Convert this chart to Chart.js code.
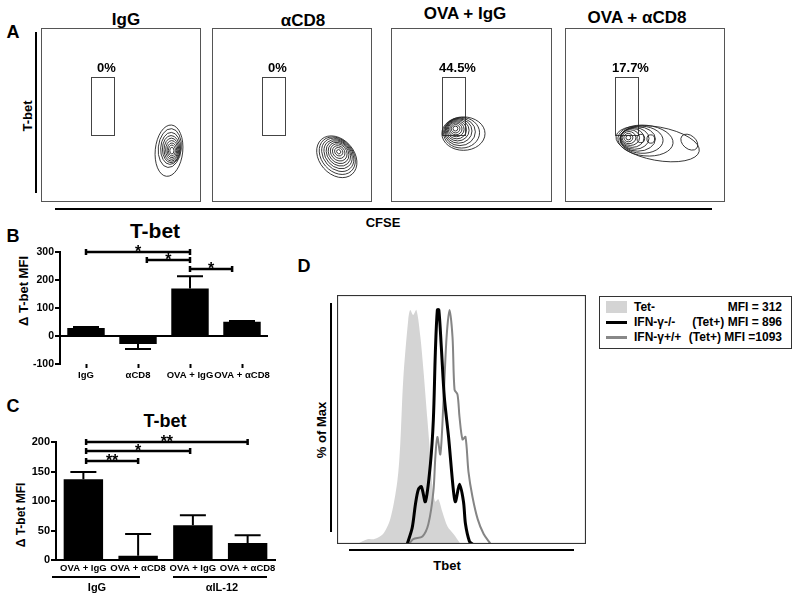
<!DOCTYPE html>
<html>
<head>
<meta charset="utf-8">
<script src="https://cdn.jsdelivr.net/npm/chart.js@4.4.0/dist/chart.umd.min.js"></script>
<style>
  body { margin: 0; background: #fff; width: 800px; height: 599px; position: relative; overflow: hidden;
         font-family: "Liberation Sans", Arial, sans-serif; font-weight: bold; color: #000; }
  .t { position: absolute; transform: translate(-50%, -50%); white-space: nowrap; line-height: 1; }
  .v { position: absolute; transform: translate(-50%, -50%) rotate(-90deg); white-space: nowrap; line-height: 1; }
  .rule { position: absolute; background: #000; }
  canvas { position: absolute; }
</style>
</head>
<body>

<!-- panel A -->
<div class="t" style="left:13px;top:32px;font-size:18px">A</div>
<div id="flowTitles"></div>
<div class="rule" style="left:35px;top:32px;width:2px;height:161px"></div>
<div class="v" style="left:27px;top:116px;font-size:13px">T-bet</div>
<div class="rule" style="left:55px;top:208px;width:657px;height:2px"></div>
<div class="t" style="left:383px;top:222px;font-size:13px">CFSE</div>
<canvas id="flow0" width="160" height="174" style="left:41px;top:28px"></canvas>
<canvas id="flow1" width="160" height="174" style="left:212px;top:28px"></canvas>
<canvas id="flow2" width="161" height="174" style="left:391px;top:28px"></canvas>
<canvas id="flow3" width="160" height="174" style="left:565px;top:28px"></canvas>

<!-- panel B -->
<div class="t" style="left:13px;top:236px;font-size:18px">B</div>
<div class="t" style="left:155px;top:230px;font-size:21px">T-bet</div>
<div class="v" style="left:23px;top:291px;font-size:13px">Δ T-bet MFI</div>
<canvas id="barB" width="290" height="168" style="left:0;top:222px"></canvas>

<!-- panel C -->
<div class="t" style="left:13px;top:406px;font-size:18px">C</div>
<div class="t" style="left:165px;top:421px;font-size:18px">T-bet</div>
<div class="v" style="left:21px;top:515px;font-size:12px">Δ T-bet MFI</div>
<canvas id="barC" width="290" height="155" style="left:0;top:425px"></canvas>
<div class="rule" style="left:52px;top:576px;width:88px;height:1.5px"></div>
<div class="rule" style="left:173px;top:576px;width:94px;height:1.5px"></div>
<div id="groupC"></div>

<!-- panel D -->
<div class="t" style="left:304px;top:266px;font-size:18px">D</div>
<div class="rule" style="left:330px;top:303px;width:2px;height:229px"></div>
<div class="rule" style="left:349px;top:549px;width:225px;height:2px"></div>
<div class="v" style="left:321px;top:430px;font-size:13px">% of Max</div>
<div class="t" style="left:447px;top:565px;font-size:13px">Tbet</div>
<canvas id="hist" width="249" height="249" style="left:337px;top:295px"></canvas>
<div id="legend" style="position:absolute;left:599px;top:296px;width:193px;height:53px;border:1px solid #333;box-sizing:border-box"></div>

<script>
// ---- A: CFSE vs T-bet flow plots (0-100 display units) ----
const sampleNames = ['IgG', 'αCD8', 'OVA + IgG', 'OVA + αCD8'];
const gatePercent = ['0%', '0%', '44.5%', '17.7%'];
const gateCfse = [31.4, 45.9];
const gateTbet = [38.7, 71.7];
// contour rings: [cfse, tbet, cfse radius, tbet radius, tilt]
const contourIgG = [
  [80.0, 29.5, 8.6, 14.8, 0.1], [80.5, 31.0, 7.2, 11.2, 0.1], [81.0, 30.8, 6.2, 9.2, 0.05],
  [81.3, 30.4, 5.4, 7.8, 0], [81.5, 30.1, 4.6, 6.6, 0], [81.7, 29.9, 3.8, 5.4, 0],
  [81.8, 29.7, 3.0, 4.2, 0], [81.8, 29.6, 2.2, 3.1, 0], [81.8, 29.5, 1.3, 1.9, 0]
];
const contourCD8 = [
  [78.0, 26.0, 14.5, 10.0, 0.85], [78.3, 26.6, 13.0, 9.0, 0.85], [78.6, 27.1, 11.5, 8.1, 0.85],
  [78.8, 27.5, 10.0, 7.2, 0.85], [79.0, 27.9, 8.6, 6.3, 0.85], [79.1, 28.2, 7.2, 5.4, 0.85],
  [79.2, 28.5, 5.8, 4.4, 0.85], [79.2, 28.7, 4.3, 3.3, 0.85], [79.2, 28.9, 2.8, 2.2, 0.85],
  [79.2, 28.9, 1.4, 1.1, 0.85]
];
const contourOvaIgG = [
  [45.0, 39.3, 13.4, 9.6, 0], [43.8, 39.8, 11.2, 8.8, 0], [42.8, 40.3, 9.6, 7.9, 0],
  [42.0, 40.8, 8.3, 7.0, 0], [41.4, 41.2, 7.1, 6.1, 0], [40.9, 41.5, 6.0, 5.2, 0],
  [40.5, 41.8, 4.9, 4.3, 0], [40.3, 42.0, 3.8, 3.4, 0], [40.1, 42.1, 2.7, 2.4, 0],
  [40.0, 42.2, 1.5, 1.4, 0]
];
const contourOvaCD8 = [
  [57.9, 33.5, 26.4, 9.6, 0.18], [77.7, 34.4, 6.0, 3.8, 0.7], [50.3, 35.3, 17.3, 8.8, 0.1],
  [47.8, 35.8, 13.5, 7.8, 0.05], [45.5, 36.2, 11.0, 7.0, 0], [43.5, 36.5, 9.0, 6.2, 0],
  [42.0, 36.8, 7.4, 5.4, 0], [40.8, 37.0, 5.8, 4.5, 0], [40.0, 37.0, 4.3, 3.5, 0],
  [39.6, 37.0, 2.8, 2.4, 0], [39.6, 37.0, 1.5, 1.3, 0], [47.4, 36.5, 2.4, 2.4, 0],
  [53.6, 36.2, 2.4, 2.4, 0]
];
const contours = [contourIgG, contourCD8, contourOvaIgG, contourOvaCD8];
const titlePos = [[126, 19], [303, 20], [465, 13], [637, 17]];

// ---- B: delta T-bet MFI ----
const groupsB = ['IgG', 'αCD8', 'OVA + IgG', 'OVA + αCD8'];
const meanB = [29, -29, 170, 51];
const errEndB = [32, -46, 213, 54];
const ticksB = [-100, 0, 100, 200, 300];
const sigFromB = [0, 1.17, 2];
const sigToB = [2, 2, 2.81];
const sigAtB = [300, 271, 239];
const sigTextB = ['*', '*', '*'];

// ---- C: delta T-bet MFI, IgG vs anti-IL-12 ----
const groupsC = ['OVA + IgG', 'OVA + αCD8', 'OVA + IgG', 'OVA + αCD8'];
const treatC = ['IgG', 'αIL-12'];
const meanC = [137, 7, 59, 29];
const errEndC = [149, 44, 76, 42];
const ticksC = [0, 50, 100, 150, 200];
const sigFromC = [0.05, 0.05, 0.05];
const sigToC = [3, 1.95, 1];
const sigAtC = [200, 184, 168];
const sigTextC = ['**', '*', '**'];

// ---- D: Tbet histograms (% of max) ----
const tetNegX = [8, 12.5, 15, 18.5, 21.4, 24.2, 25.4, 26.6, 28.6, 29.4, 30.6, 31.9, 33.5, 34.7, 36.3, 37.5, 38.3, 39.5, 40.7, 42.3, 44.4, 46.8, 49.6];
const tetNegY = [0, 2, 2, 4, 10, 25, 40, 66, 90, 94, 92, 94, 83, 70, 50, 35, 23, 17, 18, 13, 7, 4, 0];
const koX = [28.2, 30.2, 31.5, 32.7, 33.9, 35.5, 37.5, 38.7, 39.5, 40.3, 40.9, 41.9, 43.1, 44.8, 46.8, 47.6, 49.2, 50.8, 51.6, 53.2, 54.4];
const koY = [0, 6.5, 16, 22, 23, 17, 32, 50, 77, 94, 94, 79, 59, 43, 21, 17, 24, 17, 8, 1, 0];
const wtX = [29, 30.6, 34.3, 36.7, 38.7, 39.5, 40.3, 41.5, 42.7, 44, 45.2, 46.4, 47.2, 48.4, 49.2, 50.4, 51.6, 52.8, 54.4, 56.5, 58.9, 61.7];
const wtY = [0, 2, 3, 8, 21, 35, 43, 36, 56, 83, 94, 83, 62, 60, 51, 42, 43, 29, 19, 10, 4, 0];
const legendNames = ['Tet-', 'IFN-γ-/-', 'IFN-γ+/+'];
const legendMfi = ['MFI = 312', '(Tet+) MFI = 896', '(Tet+) MFI =1093'];

const FONT = '"Liberation Sans", Arial, sans-serif';
Chart.defaults.font.family = FONT;
Chart.defaults.font.weight = 'bold';
Chart.defaults.color = '#000';

const base = {
  responsive: false, animation: false, events: [],
  plugins: { legend: { display: false }, tooltip: { enabled: false } }
};

// A
let titles = '';
sampleNames.forEach((n, i) => {
  titles += '<div class="t" style="left:' + titlePos[i][0] + 'px;top:' + titlePos[i][1] + 'px;font-size:17px">' + n + '</div>';
});
document.getElementById('flowTitles').innerHTML = titles;

function flowPanel(i) {
  const rings = contours[i];
  new Chart(document.getElementById('flow' + i), {
    type: 'scatter',
    data: { datasets: [] },
    options: Object.assign({}, base, {
      layout: { padding: 0 },
      scales: { x: { display: false, min: 0, max: 100 }, y: { display: false, min: 0, max: 100 } }
    }),
    plugins: [{
      id: 'flow',
      afterDraw(chart) {
        const { ctx, chartArea: a, scales: { x, y } } = chart;
        ctx.save();
        ctx.strokeStyle = '#555';
        ctx.lineWidth = 1;
        ctx.strokeRect(a.left + 0.5, a.top + 0.5, a.width - 1, a.height - 1);
        const gx0 = Math.round(x.getPixelForValue(gateCfse[0])), gx1 = Math.round(x.getPixelForValue(gateCfse[1]));
        const gy0 = Math.round(y.getPixelForValue(gateTbet[1])), gy1 = Math.round(y.getPixelForValue(gateTbet[0]));
        ctx.strokeStyle = '#444';
        ctx.strokeRect(gx0 + 0.5, gy0 + 0.5, gx1 - gx0, gy1 - gy0);
        ctx.strokeStyle = '#222';
        ctx.lineWidth = 0.9;
        rings.forEach(r => {
          const cx = x.getPixelForValue(r[0]), cy = y.getPixelForValue(r[1]);
          const rx = x.getPixelForValue(r[0] + r[2]) - cx, ry = cy - y.getPixelForValue(r[1] + r[3]);
          ctx.beginPath();
          ctx.ellipse(cx, cy, rx, ry, r[4], 0, Math.PI * 2);
          ctx.stroke();
        });
        ctx.fillStyle = '#000';
        ctx.font = 'bold 13px ' + FONT;
        ctx.textAlign = 'center';
        ctx.textBaseline = 'middle';
        ctx.fillText(gatePercent[i], (gx0 + gx1) / 2 + 4, gy0 - 9);
        ctx.restore();
      }
    }]
  });
}
for (let i = 0; i < 4; i++) flowPanel(i);

// B and C
function barPanel(id, labels, means, ends, ticks, sig, cfg) {
  new Chart(document.getElementById(id), {
    type: 'bar',
    data: { labels: labels, datasets: [{ data: means, backgroundColor: '#000', borderWidth: 0, barPercentage: 0.72, categoryPercentage: 1 }] },
    options: Object.assign({}, base, {
      layout: { padding: cfg.padding },
      scales: {
        x: {
          ticks: { font: { size: 9.5, weight: 'bold' }, maxRotation: 0, minRotation: 0, autoSkip: false, padding: cfg.xPad },
          grid: cfg.xGrid,
          border: { display: cfg.xBorder, color: '#000', width: 2 },
          afterFit: s => { s.height = cfg.xHeight; }
        },
        y: {
          min: ticks[0], max: ticks[ticks.length - 1],
          ticks: { stepSize: ticks[1] - ticks[0], font: { size: cfg.ySize, weight: 'bold' }, padding: 1 },
          grid: {
            drawOnChartArea: cfg.zeroLine, lineWidth: 2,
            color: c => (c.tick && c.tick.value === 0) ? '#000' : 'rgba(0,0,0,0)',
            tickColor: '#000', tickWidth: 2, tickLength: 5
          },
          border: { color: '#000', width: 2 },
          afterFit: s => { s.width = cfg.yWidth; }
        }
      }
    }),
    plugins: [{
      id: 'errAndSig',
      afterDatasetsDraw(chart) {
        const { ctx, scales: { x, y } } = chart;
        const meta = chart.getDatasetMeta(0);
        ctx.save();
        ctx.strokeStyle = '#000';
        ctx.lineWidth = 2;
        meta.data.forEach((bar, i) => {
          const ye = y.getPixelForValue(ends[i]);
          ctx.beginPath();
          ctx.moveTo(bar.x, bar.y);
          ctx.lineTo(bar.x, ye);
          ctx.moveTo(bar.x - 13, ye);
          ctx.lineTo(bar.x + 13, ye);
          ctx.stroke();
        });
        ctx.lineWidth = 2.5;
        ctx.fillStyle = '#000';
        ctx.font = 'bold 16px ' + FONT;
        ctx.textAlign = 'center';
        ctx.textBaseline = 'alphabetic';
        sig.from.forEach((f, i) => {
          const x0 = x.getPixelForValue(f), x1 = x.getPixelForValue(sig.to[i]);
          const yy = Math.round(y.getPixelForValue(sig.at[i]));
          ctx.beginPath();
          ctx.moveTo(x0, yy); ctx.lineTo(x1, yy);
          ctx.moveTo(x0, yy - 3); ctx.lineTo(x0, yy + 3);
          ctx.moveTo(x1, yy - 3); ctx.lineTo(x1, yy + 3);
          ctx.stroke();
          ctx.fillText(sig.text[i], (x0 + x1) / 2, yy + 4.5);
        });
        ctx.restore();
      }
    }]
  });
}

barPanel('barB', groupsB, meanB, errEndB, ticksB,
  { from: sigFromB, to: sigToB, at: sigAtB, text: sigTextB },
  {
    padding: { left: 16, top: 30, right: 22, bottom: 2 }, yWidth: 44, xHeight: 24, ySize: 10.5, xPad: 2,
    zeroLine: true, xBorder: false,
    xGrid: { display: true, drawOnChartArea: false, offset: false, tickColor: '#000', tickWidth: 2, tickLength: 4 }
  });

barPanel('barC', groupsC, meanC, errEndC, ticksC,
  { from: sigFromC, to: sigToC, at: sigAtC, text: sigTextC },
  {
    padding: { left: 14, top: 17, right: 15, bottom: 2 }, yWidth: 42, xHeight: 18, ySize: 11, xPad: 3,
    zeroLine: false, xBorder: true,
    xGrid: { display: false, drawTicks: false }
  });

const groupPos = [[97, 587], [222, 587]];
document.getElementById('groupC').innerHTML = treatC.map((g, i) =>
  '<div class="t" style="left:' + groupPos[i][0] + 'px;top:' + groupPos[i][1] + 'px;font-size:11px">' + g + '</div>').join('');

// D
const pts = (xs, ys) => xs.map((v, i) => ({ x: v, y: ys[i] }));
new Chart(document.getElementById('hist'), {
  type: 'line',
  data: {
    datasets: [
      { label: legendNames[1], data: pts(koX, koY), borderColor: '#000', borderWidth: 3, pointRadius: 0, tension: 0.3, fill: false },
      { label: legendNames[2], data: pts(wtX, wtY), borderColor: '#858585', borderWidth: 2, pointRadius: 0, tension: 0.3, fill: false },
      { label: legendNames[0], data: pts(tetNegX, tetNegY), borderWidth: 0, borderColor: 'rgba(0,0,0,0)', backgroundColor: '#d4d4d4', pointRadius: 0, tension: 0.3, fill: 'origin' }
    ]
  },
  options: Object.assign({}, base, {
    layout: { padding: 0 },
    scales: {
      x: { type: 'linear', display: false, min: 0, max: 100 },
      y: { display: false, min: 0, max: 100 }
    }
  }),
  plugins: [{
    id: 'frame',
    afterDraw(chart) {
      const { ctx, chartArea: a } = chart;
      ctx.save();
      ctx.strokeStyle = '#333';
      ctx.lineWidth = 1.2;
      ctx.strokeRect(a.left + 0.5, a.top + 0.5, a.width - 1, a.height - 1);
      ctx.restore();
    }
  }]
});

const swatches = [
  '<span style="position:absolute;left:6px;top:4px;width:21px;height:12px;background:#d4d4d4"></span>',
  '<span style="position:absolute;left:6px;top:8.5px;width:21px;height:3px;background:#000"></span>',
  '<span style="position:absolute;left:6px;top:8.5px;width:21px;height:3px;background:#888"></span>'
];
document.getElementById('legend').innerHTML = legendNames.map((n, i) =>
  '<div style="position:absolute;left:0;top:' + (i * 15) + 'px;width:191px;height:20px;font-size:12px;line-height:20px">' +
  swatches[i] +
  '<span style="position:absolute;left:34px">' + n + '</span>' +
  '<span style="position:absolute;right:9px">' + legendMfi[i] + '</span></div>').join('');
</script>
</body>
</html>
